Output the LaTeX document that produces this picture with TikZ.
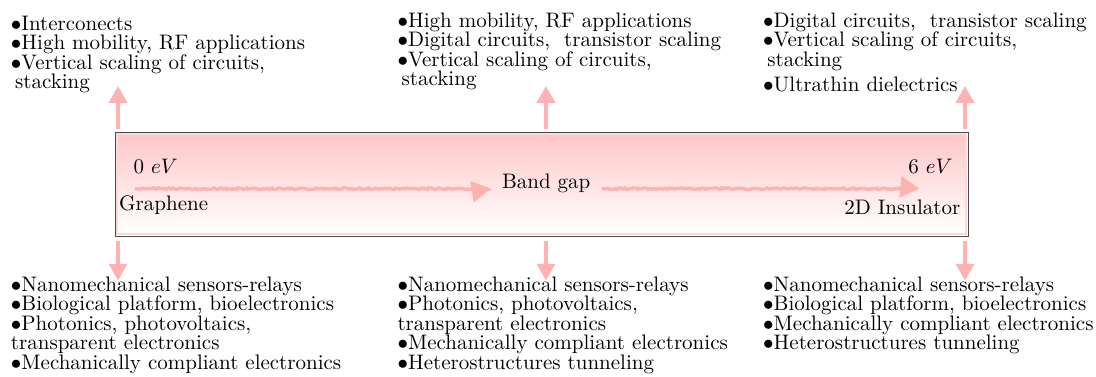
\documentclass[tikz,border=0pt]{standalone}
\usetikzlibrary{arrows.meta,decorations.pathmorphing}

\begin{document}
\begin{tikzpicture}[
  apps/.style={anchor=north west,inner sep=0pt,align=left,font=\fontsize{10}{9.3}\selectfont},
  tag/.style={inner sep=0pt},
  link/.style={-{Triangle[length=8pt,width=8.5pt]},line width=1.8pt,red!30},
  gaparrow/.style={-{Triangle[length=9pt,width=10pt]},line width=1.6pt,red!30,
    decorate,decoration={random steps,segment length=1pt,amplitude=0.4pt}}
]
\useasboundingbox (0,0) rectangle (18.343,6.309);
% Band gap strip
\node[draw=black!70,line width=0.4pt,minimum width=14.275cm,minimum height=1.74cm,inner sep=0pt] (strip) at (9.0625,3.23) {};
\shade[top color=red!22,bottom color=white,draw=red!15,line width=0.8pt]
  ([shift={(0.04,0.04)}]strip.south west) rectangle ([shift={(-0.04,-0.04)}]strip.north east);
% Labels
\node[tag,anchor=base west] (zero) at (2.231,3.397) {0 $eV$};
\node[tag,anchor=base west] (graphene) at (1.988,2.783) {Graphene};
\node[tag,anchor=base east] (six) at (15.95,3.409) {6 $eV$};
\node[tag,anchor=base east] (insulator) at (16.079,2.711) {2D Insulator};
\node[tag,anchor=base west,inner xsep=5.2pt] (gap) at (8.212,3.146) {Band gap};
% Band gap arrows
\coordinate (g0) at (2.259,3.151);
\coordinate (g1) at (15.386,3.151);
\draw[gaparrow] (g0) -- (gap.west |- g0);
\draw[gaparrow] (gap.east |- g1) -- (g1);
% Arrows to applications
\coordinate (up1) at (1.975,4.87);
\coordinate (up2) at (9.138,4.87);
\coordinate (up3) at (16.15,4.87);
\coordinate (dn1) at (1.975,1.612);
\coordinate (dn2) at (9.138,1.612);
\coordinate (dn3) at (16.15,1.612);
\draw[link] ([yshift=1pt]strip.north -| up1) -- (up1);
\draw[link] ([yshift=1pt]strip.north -| up2) -- (up2);
\draw[link] ([yshift=1pt]strip.north -| up3) -- (up3);
\draw[link] ([yshift=-2pt]strip.south -| dn1) -- (dn1);
\draw[link] ([yshift=-2pt]strip.south -| dn2) -- (dn2);
\draw[link] ([yshift=-2pt]strip.south -| dn3) -- (dn3);
% Applications, top
\node[apps] (top1) at (0.176,6.052) {$\bullet$Interconects\\
  $\bullet$High mobility, RF applications\\
  $\bullet$Vertical scaling of circuits,\\
  \hspace{2pt}stacking};
\node[apps] (top2) at (6.646,6.107) {$\bullet$High mobility, RF applications\\
  $\bullet$Digital circuits,\ \ transistor scaling\\
  $\bullet$Vertical scaling of circuits,\\
  \hspace{2pt}stacking};
\node[apps] (top3) at (12.766,6.102) {$\bullet$Digital circuits,\ \ transistor scaling\\
  $\bullet$Vertical scaling of circuits,\\
  \hspace{2pt}stacking\\[2.6pt]
  $\bullet$Ultrathin dielectrics};
% Applications, bottom
\node[apps] (bot1) at (0.176,1.684) {$\bullet$Nanomechanical sensors-relays\\
  $\bullet$Biological platform, bioelectronics\\
  $\bullet$Photonics, photovoltaics,\\
  transparent electronics\\
  $\bullet$Mechanically compliant electronics};
\node[apps] (bot2) at (6.646,1.684) {$\bullet$Nanomechanical sensors-relays\\
  $\bullet$Photonics, photovoltaics,\\
  transparent electronics\\
  $\bullet$Mechanically compliant electronics\\
  $\bullet$Heterostructures tunneling};
\node[apps] (bot3) at (12.766,1.684) {$\bullet$Nanomechanical sensors-relays\\
  $\bullet$Biological platform, bioelectronics\\
  $\bullet$Mechanically compliant electronics\\
  $\bullet$Heterostructures tunneling};
\end{tikzpicture}
\end{document}
